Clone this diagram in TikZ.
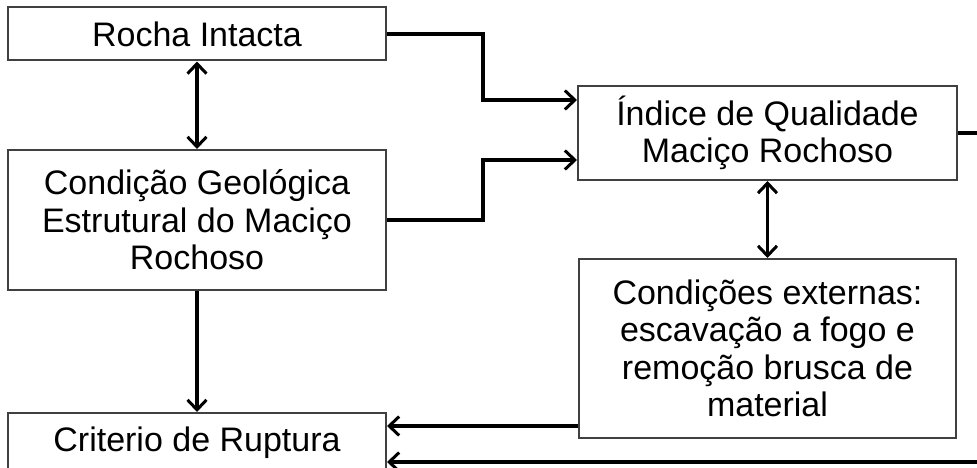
\documentclass[tikz,border=0pt]{standalone}
\usepackage{fontspec}
\setmainfont{Liberation Sans}
\usetikzlibrary{arrows.meta}

\begin{document}
\begin{tikzpicture}[x=1pt,y=-1pt,
  box/.style={draw=black!75, line width=2pt, fill=white, inner sep=0pt,
    align=center, font=\fontsize{34}{37.5}\selectfont},
  tip/.style={Straight Barb[length=10pt,width=19pt,line width=3pt]},
  conn/.style={line width=3.6pt, -{Straight Barb[length=10pt,width=19pt,line width=3pt]}},
  dconn/.style={line width=3.6pt, {Straight Barb[length=10pt,width=19pt,line width=3pt]}-{Straight Barb[length=10pt,width=19pt,line width=3pt]}}]
  \useasboundingbox (0,0) rectangle (977,468);
  \fill[white] (0,0) rectangle (977,468);

  % left column
  \node[box, minimum width=378pt, minimum height=53pt] (rocha) at (197,34) {Rocha Intacta};
  \node[box, minimum width=378pt, minimum height=140pt] (condicao) at (197,220)
    {Condição Geológica\\Estrutural do Maciço\\Rochoso};
  \node[box, minimum width=378pt, minimum height=60pt] (criterio) at (197,443) {Criterio de Ruptura};

  % right column
  \node[box, minimum width=379pt, minimum height=94pt] (indice) at (767.5,133)
    {Índice de Qualidade\\Maciço Rochoso};
  \node[box, minimum width=377pt, minimum height=179pt] (externas) at (767.5,348.5)
    {Condições externas:\\escavação a fogo e\\remoção brusca de\\material};

  % routing points
  \coordinate (bendA) at (483,100);
  \coordinate (bendB) at (483,160);
  \coordinate (extOut) at (0,426);
  \coordinate (loopR) at (1000,462);

  % connectors
  \draw[dconn] (rocha.south) -- (condicao.north);
  \draw[conn] (condicao.south) -- (criterio.north);
  \draw[dconn] (indice.south) -- (externas.north);
  \draw[conn] (rocha.east) -| (bendA) -- (bendA -| indice.west);
  \draw[conn] (condicao.east) -| (bendB) -- (bendB -| indice.west);
  \draw[conn] (extOut -| externas.west) -- (extOut -| criterio.east);
  \draw[conn] (indice.east) -| (loopR) -- (loopR -| criterio.east);
\end{tikzpicture}
\end{document}
